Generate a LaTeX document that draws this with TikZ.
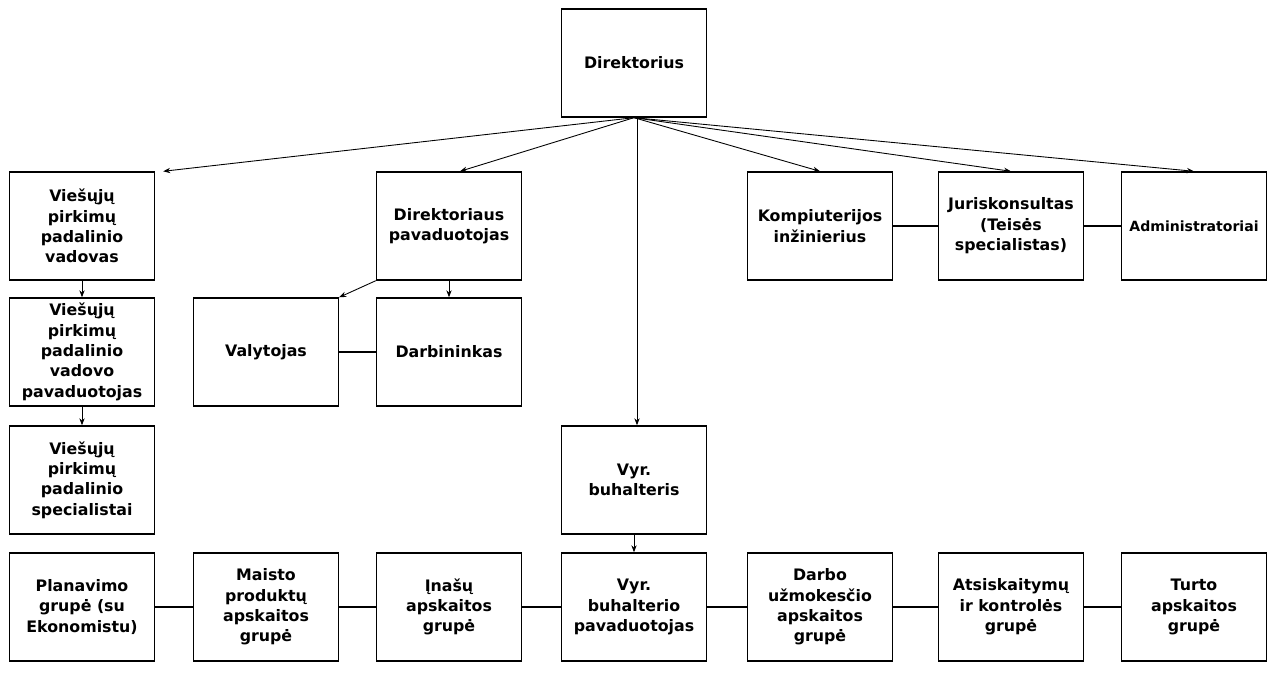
\documentclass[tikz,border=0pt]{standalone}
\usepackage{fontspec}
\setmainfont{DejaVu Sans}
\usepackage{tikz}
\usetikzlibrary{arrows.meta}

\begin{document}
\begin{tikzpicture}[x=0.02cm,y=-0.02cm,
  box/.style={draw, line width=0.8pt, minimum width=2.9cm, minimum height=2.16cm,
    align=center, font=\fontsize{9}{11.6}\selectfont\bfseries, inner sep=1pt},
  arr/.style={-{Stealth[length=4pt,width=3pt]}, line width=0.5pt},
  lnk/.style={line width=0.7pt}]
\useasboundingbox (0,0) rectangle (1275,695);

\node[box] (dir) at (634,63) {Direktorius};

\node[box] (vpvad) at (82,226) {Viešųjų\\pirkimų\\padalinio\\vadovas};
\node[box] (dirpav) at (449,226) {Direktoriaus\\pavaduotojas};
\node[box] (komp) at (820,226) {Kompiuterijos\\inžinierius};
\node[box] (jur) at (1011,226) {Juriskonsultas\\(Teisės\\specialistas)};
\node[box, font=\fontsize{8}{10}\selectfont\bfseries] (adm) at (1194,226) {Administratoriai};

\node[box] (vpvpav) at (82,352) {Viešųjų\\pirkimų\\padalinio\\vadovo\\pavaduotojas};
\node[box] (valyt) at (266,352) {Valytojas};
\node[box] (darb) at (449,352) {Darbininkas};

\node[box] (vpspec) at (82,480) {Viešųjų\\pirkimų\\padalinio\\specialistai};
\node[box] (vbuh) at (634,480) {Vyr.\\buhalteris};

\node[box] (plan) at (82,607) {Planavimo\\grupė (su\\Ekonomistu)};
\node[box] (maist) at (266,607) {Maisto\\produktų\\apskaitos\\grupė};
\node[box] (inas) at (449,607) {Įnašų\\apskaitos\\grupė};
\node[box] (vbpav) at (634,607) {Vyr.\\buhalterio\\pavaduotojas};
\node[box] (darbo) at (820,607) {Darbo\\užmokesčio\\apskaitos\\grupė};
\node[box] (atsisk) at (1011,607) {Atsiskaitymų\\ir kontrolės\\grupė};
\node[box] (turto) at (1194,607) {Turto\\apskaitos\\grupė};

% from the director
\draw[arr] (dir.south) -- ([xshift=0.16cm]vpvad.north east);
\draw[arr] (dir.south) -- ([xshift=0.22cm]dirpav.north);
\draw[arr] (dir.south) -- (komp.north);
\draw[arr] (dir.south) -- (jur.north);
\draw[arr] (dir.south) -- (adm.north);
\draw[arr] ([xshift=0.06cm]dir.south) -- ([xshift=0.06cm]vbuh.north);

% down the columns
\draw[arr] (vpvad) -- (vpvpav);
\draw[arr] (vpvpav) -- (vpspec);
\draw[arr] (dirpav) -- (darb);
\draw[arr] (dirpav.south west) -- (valyt.north east);
\draw[arr] (vbuh) -- (vbpav);

% side links
\draw[lnk] (valyt) -- (darb);
\draw[lnk] (komp) -- (jur);
\draw[lnk] (jur) -- (adm);
\draw[lnk] (plan) -- (maist);
\draw[lnk] (maist) -- (inas);
\draw[lnk] (inas) -- (vbpav);
\draw[lnk] (vbpav) -- (darbo);
\draw[lnk] (darbo) -- (atsisk);
\draw[lnk] (atsisk) -- (turto);

\end{tikzpicture}
\end{document}
